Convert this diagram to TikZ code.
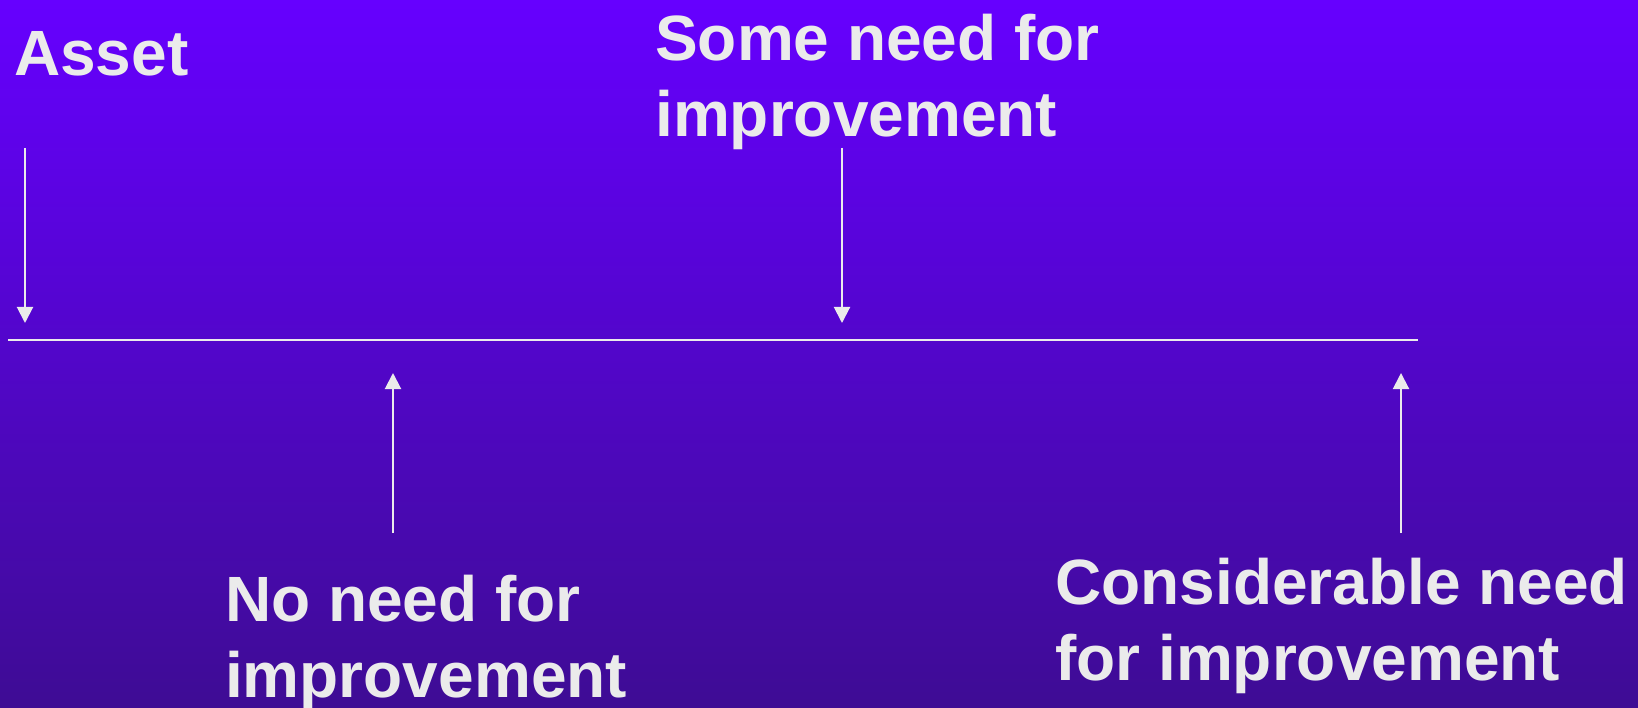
\documentclass[tikz,border=0pt]{standalone}
\usepackage{fontspec}
\setmainfont{Liberation Sans}
\usetikzlibrary{arrows.meta}
\definecolor{bgtop}{RGB}{102,0,255}
\definecolor{bgbot}{RGB}{62,12,148}
\definecolor{ink}{RGB}{235,235,235}
\tikzset{
	label/.style={anchor=base west, inner sep=0pt, align=left, text=ink,
		font=\bfseries\fontsize{64}{76}\selectfont},
	pointer/.style={draw=ink, line width=2pt, -{Triangle[width=16pt,length=16pt]}}
}
\begin{document}
\begin{tikzpicture}[x=1pt,y=-1pt]
		% Фон
		\useasboundingbox (0,0) rectangle (1638,708);
		\fill[top color=bgtop, bottom color=bgbot] (0,0) rectangle (1638,708);

		% Подписи
		\node[label] (asset) at (14,76) {Asset};
		\node[label] (some) at (655,137) {Some need for\\improvement};
		\node[label] (none) at (225,697) {No need for\\improvement};
		\node[label] (much) at (1055,680) {Considerable need\\for improvement};

		% Шкала
		\coordinate (scaleL) at (8,340);
		\coordinate (scaleR) at (1418,340);
		\draw[draw=ink, line width=2pt] (scaleL) -- (scaleR);

		% Стрелки сверху
		\coordinate (assetA) at (25,148);
		\coordinate (assetB) at (25,323);
		\coordinate (someA) at (842,148);
		\coordinate (someB) at (842,323);
		\draw[pointer] (assetA) -- (assetB);
		\draw[pointer] (someA) -- (someB);

		% Стрелки снизу
		\coordinate (noneA) at (393,533);
		\coordinate (noneB) at (393,373);
		\coordinate (muchA) at (1401,533);
		\coordinate (muchB) at (1401,373);
		\draw[pointer] (noneA) -- (noneB);
		\draw[pointer] (muchA) -- (muchB);
	\end{tikzpicture}
\end{document}
